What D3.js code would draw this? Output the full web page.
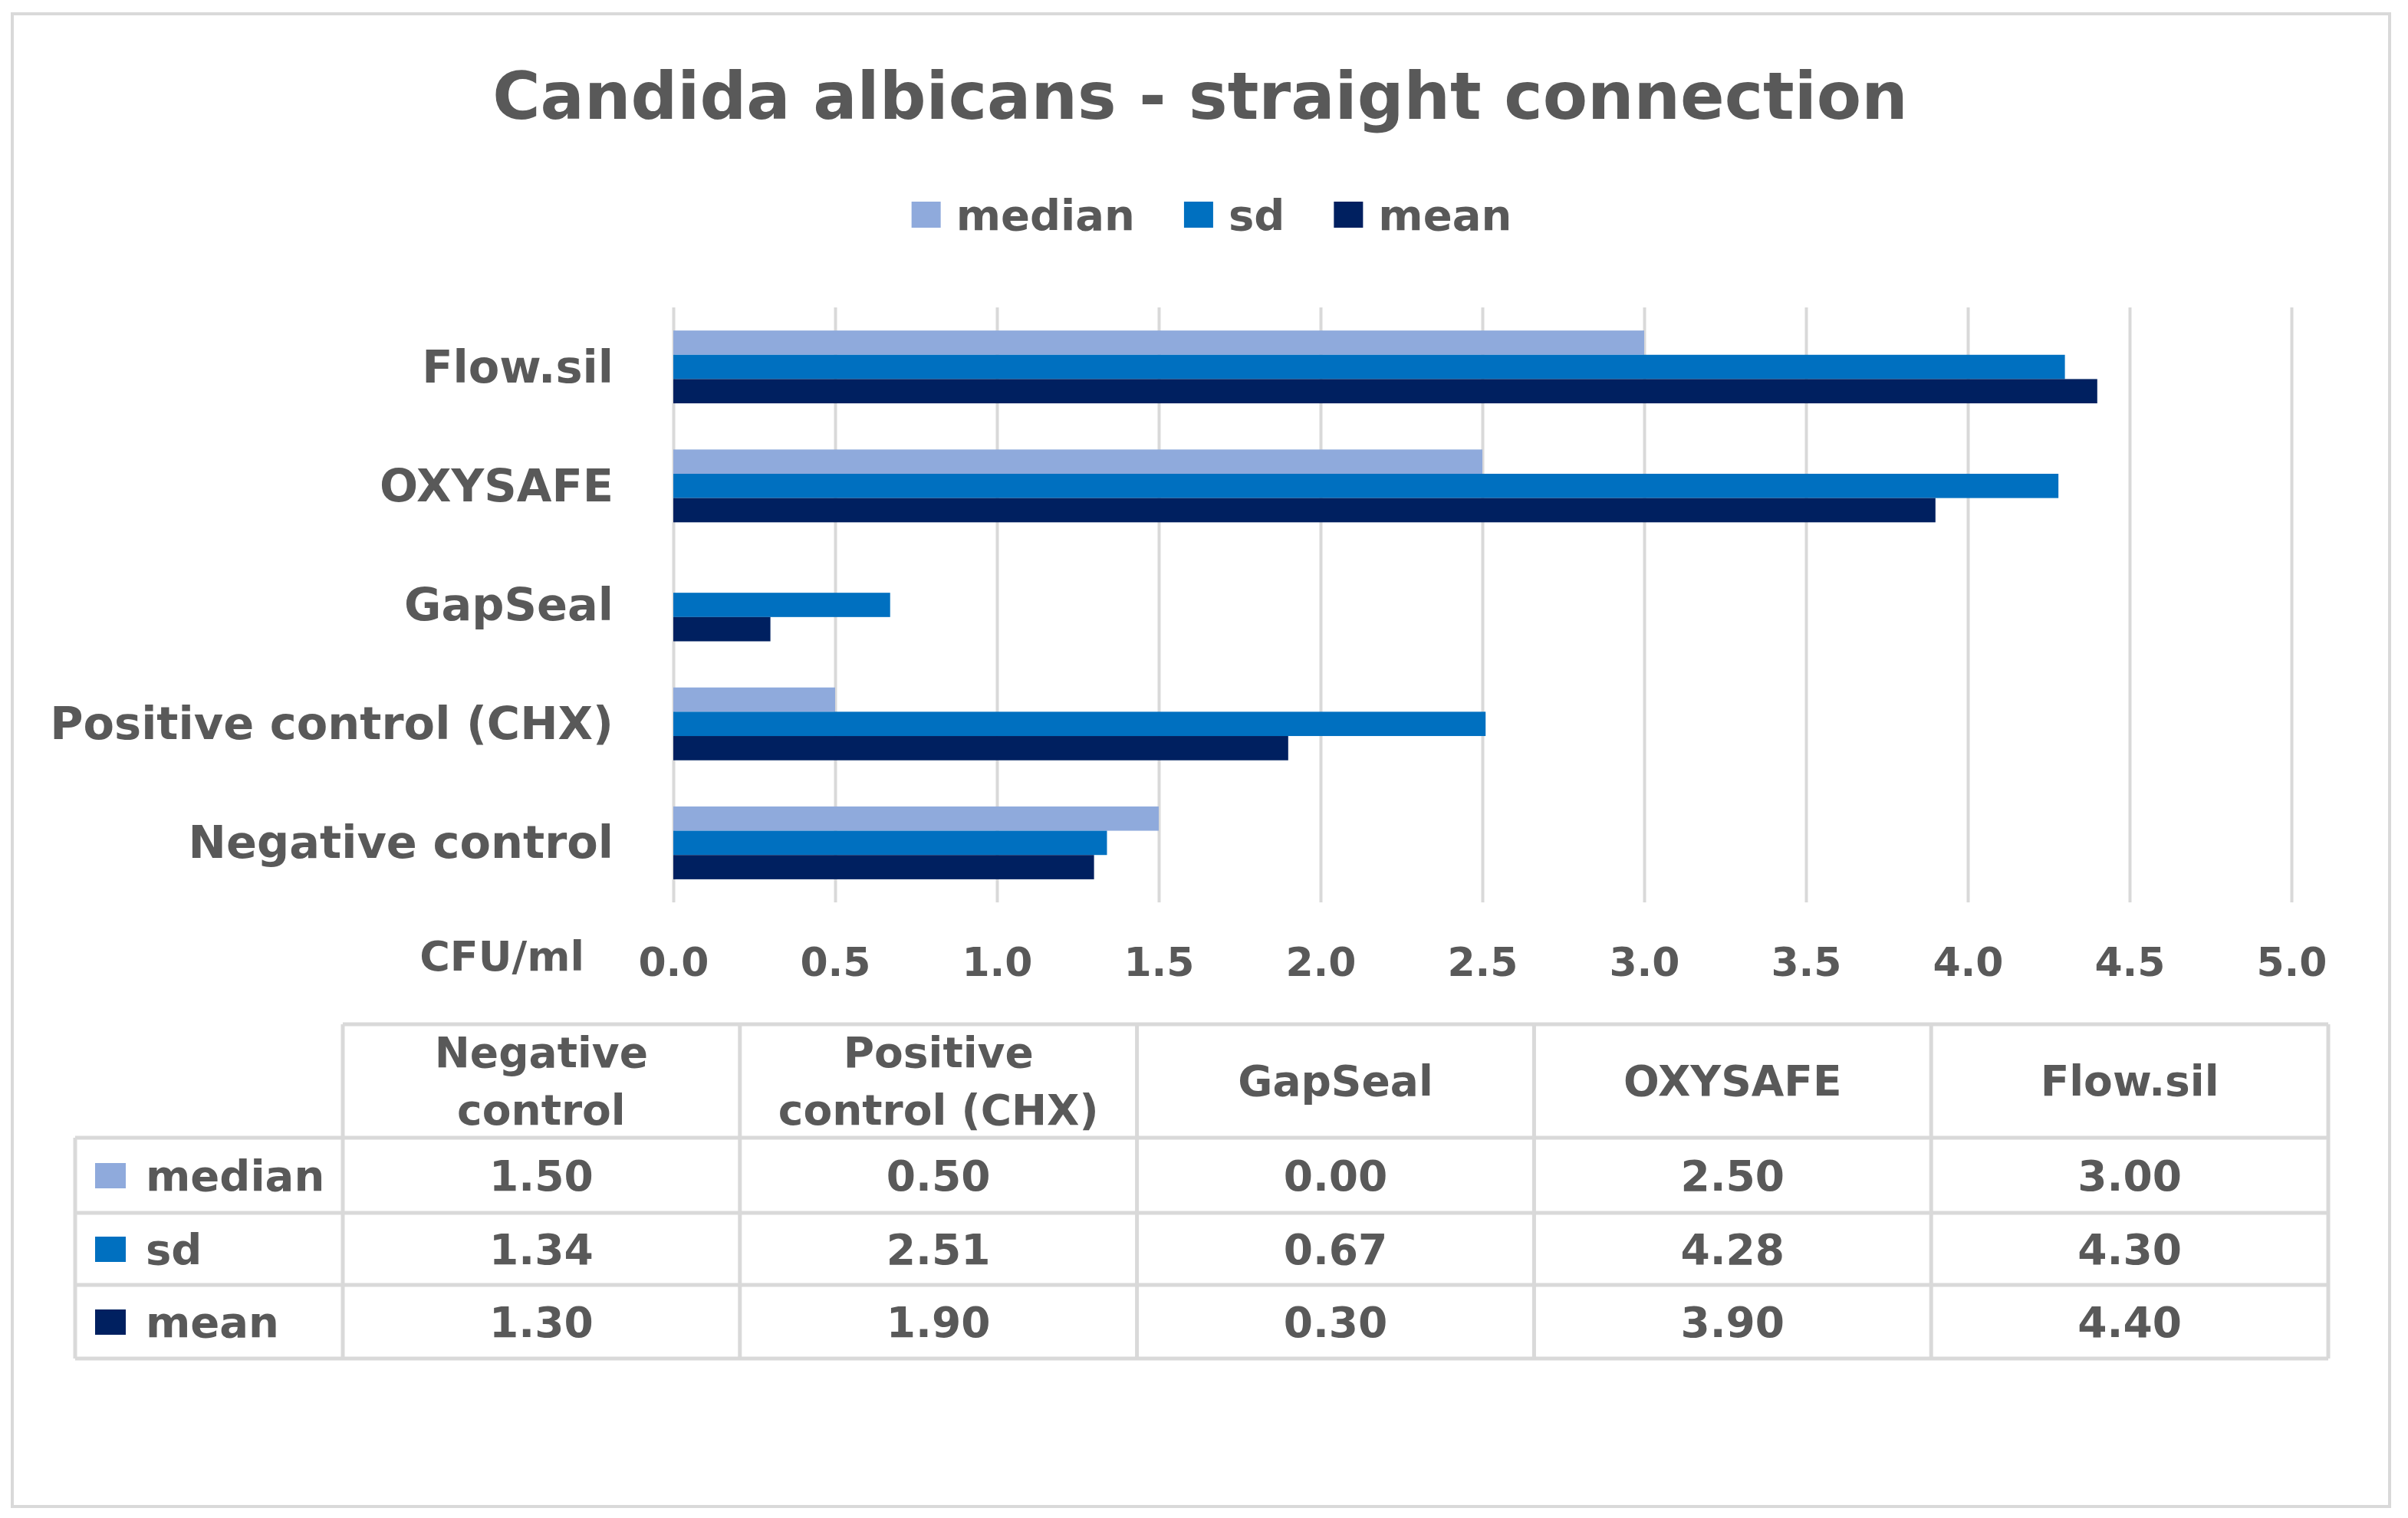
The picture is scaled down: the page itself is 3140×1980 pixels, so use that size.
<!DOCTYPE html>
<html>
<head>
<meta charset="utf-8">
<script src="https://cdn.jsdelivr.net/npm/d3@7"></script>
<style>
  html, body { margin: 0; padding: 0; background: #ffffff; }
  text { font-family: "DejaVu Sans", "Open Sans", sans-serif; font-weight: bold; fill: #595959; }
</style>
</head>
<body>
<svg id="chart" width="3140" height="1980"></svg>
<script>
// ---- data ----
const title = "Candida albicans - straight connection";
const categories = ["Negative control", "Positive control (CHX)", "GapSeal", "OXYSAFE", "Flow.sil"];
const headerLines = [["Negative", "control"], ["Positive", "control (CHX)"], ["GapSeal"], ["OXYSAFE"], ["Flow.sil"]];
const seriesNames = ["median", "sd", "mean"];
const medianValues = [1.50, 0.50, 0.00, 2.50, 3.00];
const sdValues = [1.34, 2.51, 0.67, 4.28, 4.30];
const meanValues = [1.30, 1.90, 0.30, 3.90, 4.40];
const tickValues = [0.0, 0.5, 1.0, 1.5, 2.0, 2.5, 3.0, 3.5, 4.0, 4.5, 5.0];
const axisUnit = "CFU/ml";

const seriesValues = { median: medianValues, sd: sdValues, mean: meanValues };
const colors = { median: "#8faadc", sd: "#0070c0", mean: "#002060" };
const gridColor = "#d9d9d9";

const svg = d3.select("#chart");
svg.append("rect").attr("x", 0).attr("y", 0).attr("width", 3140).attr("height", 1980).attr("fill", "#fff");

// outer chart border
svg.append("rect").attr("x", 16).attr("y", 18).attr("width", 3100).attr("height", 1947)
  .attr("fill", "none").attr("stroke", gridColor).attr("stroke-width", 4);

// title
svg.append("text").attr("x", 1565).attr("y", 155).attr("text-anchor", "middle")
  .style("font-size", "85px").text(title);

// legend
const legend = svg.append("g");
let lx = 0;
seriesNames.forEach((s, i) => {
  const g = legend.append("g");
  g.append("rect").attr("x", 0).attr("y", -17).attr("width", 38).attr("height", 34).attr("fill", colors[s]);
  const t = g.append("text").attr("x", 58).attr("y", 20).style("font-size", "56px").text(s);
  const w = t.node().getComputedTextLength();
  g.attr("transform", `translate(${lx},0)`);
  lx += 58 + w + 64;
});
const legW = lx - 64;
legend.attr("transform", `translate(${1580 - legW / 2},280)`);

// scales
const x = d3.scaleLinear().domain([0, 5]).range([878, 2988]);
const y0 = d3.scaleBand().domain(categories.slice().reverse()).range([401, 1177]).padding(0);
const groupH = y0.bandwidth() * 0.612;
const y1 = d3.scaleBand().domain(seriesNames).range([0, groupH]).padding(0);

// gridlines via axis
const gridAxis = d3.axisBottom(x).tickValues(tickValues).tickSize(-(1177 - 401)).tickFormat("");
const gridG = svg.append("g").attr("transform", "translate(0,1177)").call(gridAxis);
gridG.select(".domain").remove();
gridG.selectAll(".tick line").attr("stroke", gridColor).attr("stroke-width", 4);

// bars
categories.forEach((c, ci) => {
  const gy = y0(c) + (y0.bandwidth() - groupH) / 2;
  seriesNames.forEach(s => {
    svg.append("rect")
      .attr("x", x(0))
      .attr("y", gy + y1(s))
      .attr("width", x(seriesValues[s][ci]) - x(0))
      .attr("height", y1.bandwidth())
      .attr("fill", colors[s]);
  });
});

// category axis labels
const yAxis = d3.axisLeft(y0).tickSize(0).tickPadding(0);
const yG = svg.append("g").attr("transform", "translate(800,0)").call(yAxis);
yG.select(".domain").remove();
yG.selectAll(".tick text").attr("x", 0).attr("dy", "0.34em")
  .attr("text-anchor", "end").style("font-size", "59px").attr("fill", "#595959")
  .style("font-family", '"DejaVu Sans", sans-serif').style("font-weight", "bold");

// value axis labels
const xAxis = d3.axisBottom(x).tickValues(tickValues).tickSize(0).tickPadding(0).tickFormat(d3.format(".1f"));
const xG = svg.append("g").attr("transform", "translate(0,1273)").call(xAxis);
xG.select(".domain").remove();
xG.selectAll(".tick text").attr("y", 0).attr("dy", 0)
  .style("font-size", "52px").attr("fill", "#595959")
  .style("font-family", '"DejaVu Sans", sans-serif').style("font-weight", "bold");

svg.append("text").attr("x", 762).attr("y", 1266).attr("text-anchor", "end")
  .style("font-size", "54px").text(axisUnit);

// data table
const tLeft = 98, hLeft = 447, tRight = 3036;
const colX = d3.scaleBand().domain(categories).range([hLeft, tRight]).padding(0);
const rowEdges = [1336, 1484, 1582, 1676, 1772];
const tbl = svg.append("g");
const lineStyle = sel => sel.attr("stroke", gridColor).attr("stroke-width", 5);

// horizontal lines
tbl.append("line").attr("x1", hLeft).attr("x2", tRight).attr("y1", rowEdges[0]).attr("y2", rowEdges[0]).call(lineStyle);
rowEdges.slice(1).forEach(yy => {
  tbl.append("line").attr("x1", tLeft).attr("x2", tRight).attr("y1", yy).attr("y2", yy).call(lineStyle);
});
// vertical lines
tbl.append("line").attr("x1", tLeft).attr("x2", tLeft).attr("y1", rowEdges[1]).attr("y2", rowEdges[4]).call(lineStyle);
categories.forEach(c => {
  tbl.append("line").attr("x1", colX(c)).attr("x2", colX(c)).attr("y1", rowEdges[0]).attr("y2", rowEdges[4]).call(lineStyle);
});
tbl.append("line").attr("x1", tRight).attr("x2", tRight).attr("y1", rowEdges[0]).attr("y2", rowEdges[4]).call(lineStyle);

// header texts
const hCenter = (rowEdges[0] + rowEdges[1]) / 2;
categories.forEach((c, ci) => {
  const lines = headerLines[ci];
  const cx = colX(c) + colX.bandwidth() / 2;
  const lh = 75;
  lines.forEach((ln, li) => {
    const cy = hCenter + (li - (lines.length - 1) / 2) * lh;
    tbl.append("text").attr("x", cx).attr("y", cy + 19).attr("text-anchor", "middle")
      .style("font-size", "55px").text(ln);
  });
});

// rows
seriesNames.forEach((s, si) => {
  const cy = (rowEdges[si + 1] + rowEdges[si + 2]) / 2;
  tbl.append("rect").attr("x", 124).attr("y", cy - 16).attr("width", 40).attr("height", 33).attr("fill", colors[s]);
  tbl.append("text").attr("x", 190).attr("y", cy + 20).style("font-size", "56px").text(s);
  categories.forEach((c, ci) => {
    const cx = colX(c) + colX.bandwidth() / 2;
    tbl.append("text").attr("x", cx).attr("y", cy + 20).attr("text-anchor", "middle")
      .style("font-size", "55px").text(d3.format(".2f")(seriesValues[s][ci]));
  });
});
</script>
</body>
</html>
